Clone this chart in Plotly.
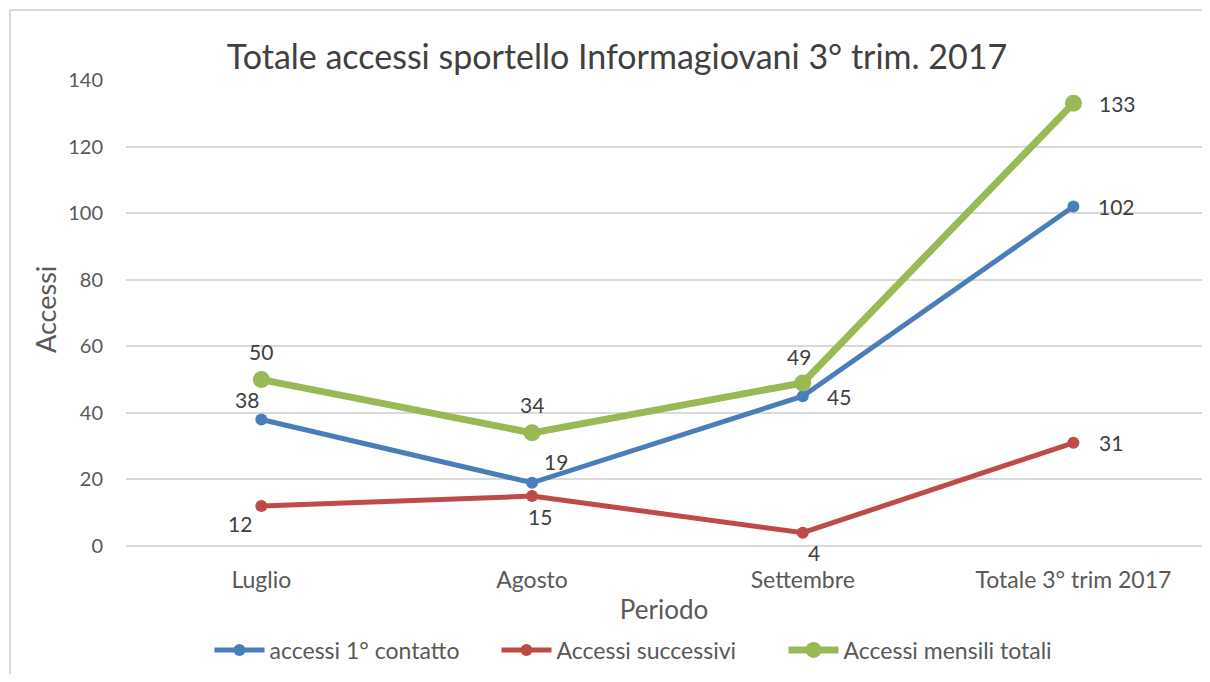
import plotly.graph_objects as go

categories = ["Luglio", "Agosto", "Settembre", "Totale 3° trim 2017"]
primo_contatto = [38, 19, 45, 102]
successivi = [12, 15, 4, 31]
mensili_totali = [50, 34, 49, 133]

names = ["accessi 1° contatto", "Accessi successivi", "Accessi mensili totali"]
colors = ["#4A7EBB", "#BE4B48", "#98B954"]

# page body has an 8px margin, so the figure is sized to fit inside the window
W, H = 1194, 666
ml, mr, mt, mb = 118, 0, 72, 128
FONT = "Lato"
LBL = dict(size=21, color="#404040", family=FONT)

series = [
    (names[0], primo_contatto, colors[0], 5, 12,
     [(-14, 20, "center"), (24, 21, "center"), (22, 0, "left"), (23, 0, "left")]),
    (names[1], successivi, colors[1], 5, 12,
     [(-21, -17, "center"), (8, -20, "center"), (11, -20, "center"), (24, 0, "left")]),
    (names[2], mensili_totali, colors[2], 7, 17,
     [(0, 28, "center"), (0, 28, "center"), (-4, 26, "center"), (24, 0, "left")]),
]

fig = go.Figure()
annotations = []
for name, vals, col, lw, ms, offs in series:
    fig.add_trace(go.Scatter(
        x=categories, y=vals, name=name, mode="lines+markers",
        line=dict(color=col, width=lw), marker=dict(size=ms, color=col),
    ))
    for c, v, (dx, dy, xa) in zip(categories, vals, offs):
        annotations.append(dict(
            x=c, y=v, xref="x", yref="y", text=str(v), showarrow=False,
            xanchor=xa, yanchor="middle", xshift=dx, yshift=dy, font=LBL,
        ))

pw = W - ml - mr
ph = H - mt - mb

annotations.append(dict(
    text="Accessi", xref="paper", yref="paper",
    x=(45 - 8 - ml) / pw, y=(H - mb - (310 - 8)) / ph,
    xanchor="center", yanchor="middle", textangle=-90, showarrow=False,
    font=dict(size=27, color="#595959", family=FONT),
))

fig.add_shape(type="line", xref="paper", yref="paper",
              x0=(2 - ml) / pw, x1=(W - ml) / pw,
              y0=(H - mb - 2) / ph, y1=(H - mb - 2) / ph,
              line=dict(color="#D9D9D9", width=2))
fig.add_shape(type="line", xref="paper", yref="paper",
              x0=(2 - ml) / pw, x1=(2 - ml) / pw,
              y0=(H - mb - 2) / ph, y1=-(mb) / ph,
              line=dict(color="#D9D9D9", width=2))

fig.update_layout(
    width=W, height=H,
    margin=dict(l=ml, r=mr, t=mt, b=mb),
    paper_bgcolor="white", plot_bgcolor="white",
    font=dict(family=FONT, color="#595959"),
    title=dict(text="Totale accessi sportello Informagiovani 3° trim. 2017",
               x=(617 - 8) / W, xref="container", xanchor="center",
               y=1 - (57 - 8) / H, yanchor="middle",
               font=dict(size=34, color="#404040", family=FONT)),
    xaxis=dict(
        title=dict(text="Periodo", font=dict(size=26, color="#595959"), standoff=8),
        tickfont=dict(size=23, color="#595959"),
        range=[-0.5, 3.475],
        showgrid=False, showline=False, zeroline=False, ticks="",
        ticklabelstandoff=18,
    ),
    yaxis=dict(
        range=[0, 140], dtick=20, tickfont=dict(size=20, color="#595959"),
        showgrid=True, gridcolor="#D9D9D9", gridwidth=1.5,
        zeroline=True, zerolinecolor="#D9D9D9", zerolinewidth=1.5,
        showline=False, ticks="", ticklabelstandoff=22,
    ),
    legend=dict(orientation="h", x=(640 - 8 - ml) / pw, xanchor="center",
                y=-(642 - (H - mb)) / ph, yanchor="middle",
                font=dict(size=23, color="#595959"), itemwidth=50,
                entrywidth=222, entrywidthmode="pixels",
                bgcolor="rgba(0,0,0,0)"),
    annotations=annotations,
    showlegend=True,
)

fig.write_html("out.html")
